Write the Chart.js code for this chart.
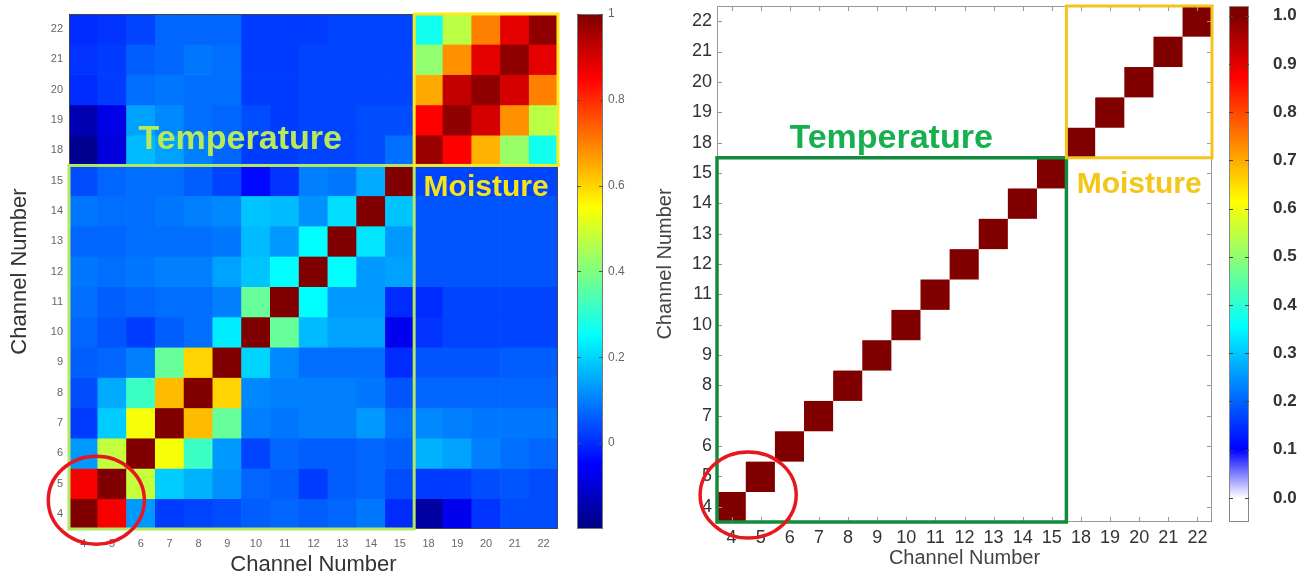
<!DOCTYPE html>
<html>
<head>
<meta charset="utf-8">
<title>Channel correlation maps</title>
<script src="https://cdn.jsdelivr.net/npm/chart.js@4.4.1/dist/chart.umd.min.js"></script>
<style>
  html, body { margin: 0; padding: 0; background: #fff; }
  body { width: 1315px; height: 578px; position: relative; overflow: hidden; }
  canvas { position: absolute; top: 0; }
  #leftChart { left: 0; }
  #rightChart { left: 640px; }
</style>
</head>
<body>
<canvas id="leftChart" width="660" height="578"></canvas>
<canvas id="rightChart" width="675" height="578"></canvas>
<script>
// --- data (rows = y channel, bottom to top; columns = x channel, left to right) ---
const channels = [4, 5, 6, 7, 8, 9, 10, 11, 12, 13, 14, 15, 18, 19, 20, 21, 22];

const leftCorr = [
  /* 4  */ [1.00, 0.86, 0.13, 0.02, 0.03, 0.04, 0.06, 0.07, 0.06, 0.07, 0.09, 0.00, -0.16, -0.07, 0.01, 0.04, 0.04],
  /* 5  */ [0.86, 1.00, 0.48, 0.19, 0.16, 0.12, 0.07, 0.06, 0.02, 0.06, 0.07, 0.04, 0.02, 0.02, 0.04, 0.05, 0.04],
  /* 6  */ [0.13, 0.48, 1.00, 0.54, 0.32, 0.13, 0.03, 0.07, 0.06, 0.06, 0.07, 0.06, 0.16, 0.14, 0.10, 0.08, 0.07],
  /* 7  */ [0.02, 0.19, 0.54, 1.00, 0.63, 0.37, 0.10, 0.09, 0.10, 0.10, 0.13, 0.08, 0.11, 0.10, 0.09, 0.09, 0.09],
  /* 8  */ [0.04, 0.15, 0.32, 0.63, 1.00, 0.60, 0.11, 0.10, 0.10, 0.10, 0.09, 0.05, 0.07, 0.07, 0.07, 0.07, 0.07],
  /* 9  */ [0.06, 0.07, 0.10, 0.37, 0.60, 1.00, 0.20, 0.11, 0.08, 0.08, 0.08, 0.00, 0.05, 0.05, 0.05, 0.06, 0.06],
  /* 10 */ [0.07, 0.05, 0.02, 0.06, 0.08, 0.23, 1.00, 0.37, 0.17, 0.14, 0.14, -0.07, 0.01, 0.03, 0.03, 0.03, 0.03],
  /* 11 */ [0.08, 0.06, 0.07, 0.08, 0.08, 0.10, 0.37, 1.00, 0.25, 0.13, 0.13, 0.00, 0.00, 0.03, 0.03, 0.03, 0.03],
  /* 12 */ [0.09, 0.08, 0.09, 0.10, 0.10, 0.14, 0.18, 0.25, 1.00, 0.25, 0.13, 0.14, 0.05, 0.05, 0.05, 0.05, 0.05],
  /* 13 */ [0.07, 0.07, 0.08, 0.08, 0.08, 0.09, 0.17, 0.13, 0.25, 1.00, 0.22, 0.13, 0.05, 0.05, 0.05, 0.05, 0.05],
  /* 14 */ [0.09, 0.08, 0.08, 0.09, 0.10, 0.11, 0.18, 0.17, 0.12, 0.21, 1.00, 0.18, 0.05, 0.05, 0.05, 0.05, 0.05],
  /* 15 */ [0.04, 0.07, 0.08, 0.08, 0.06, 0.03, -0.04, 0.01, 0.10, 0.09, 0.15, 1.00, 0.03, 0.03, 0.03, 0.03, 0.03],
  /* 18 */ [-0.18, -0.09, 0.17, 0.14, 0.10, 0.07, 0.02, 0.02, 0.03, 0.03, 0.04, 0.08, 0.97, 0.85, 0.64, 0.43, 0.27],
  /* 19 */ [-0.14, -0.08, 0.14, 0.11, 0.08, 0.07, 0.04, 0.02, 0.03, 0.03, 0.04, 0.04, 0.85, 0.98, 0.90, 0.68, 0.47],
  /* 20 */ [0.00, 0.02, 0.08, 0.09, 0.08, 0.08, 0.02, 0.02, 0.03, 0.03, 0.03, 0.03, 0.65, 0.92, 0.98, 0.90, 0.70],
  /* 21 */ [0.01, 0.02, 0.06, 0.07, 0.09, 0.08, 0.02, 0.02, 0.03, 0.03, 0.03, 0.03, 0.42, 0.68, 0.88, 0.98, 0.88],
  /* 22 */ [0.00, 0.01, 0.03, 0.07, 0.07, 0.07, 0.02, 0.02, 0.02, 0.03, 0.03, 0.03, 0.27, 0.47, 0.70, 0.88, 0.98]
];

const rightCorr = [
  /* 4  */ [1, 0, 0, 0, 0, 0, 0, 0, 0, 0, 0, 0, 0, 0, 0, 0, 0],
  /* 5  */ [0, 1, 0, 0, 0, 0, 0, 0, 0, 0, 0, 0, 0, 0, 0, 0, 0],
  /* 6  */ [0, 0, 1, 0, 0, 0, 0, 0, 0, 0, 0, 0, 0, 0, 0, 0, 0],
  /* 7  */ [0, 0, 0, 1, 0, 0, 0, 0, 0, 0, 0, 0, 0, 0, 0, 0, 0],
  /* 8  */ [0, 0, 0, 0, 1, 0, 0, 0, 0, 0, 0, 0, 0, 0, 0, 0, 0],
  /* 9  */ [0, 0, 0, 0, 0, 1, 0, 0, 0, 0, 0, 0, 0, 0, 0, 0, 0],
  /* 10 */ [0, 0, 0, 0, 0, 0, 1, 0, 0, 0, 0, 0, 0, 0, 0, 0, 0],
  /* 11 */ [0, 0, 0, 0, 0, 0, 0, 1, 0, 0, 0, 0, 0, 0, 0, 0, 0],
  /* 12 */ [0, 0, 0, 0, 0, 0, 0, 0, 1, 0, 0, 0, 0, 0, 0, 0, 0],
  /* 13 */ [0, 0, 0, 0, 0, 0, 0, 0, 0, 1, 0, 0, 0, 0, 0, 0, 0],
  /* 14 */ [0, 0, 0, 0, 0, 0, 0, 0, 0, 0, 1, 0, 0, 0, 0, 0, 0],
  /* 15 */ [0, 0, 0, 0, 0, 0, 0, 0, 0, 0, 0, 1, 0, 0, 0, 0, 0],
  /* 18 */ [0, 0, 0, 0, 0, 0, 0, 0, 0, 0, 0, 0, 1, 0, 0, 0, 0],
  /* 19 */ [0, 0, 0, 0, 0, 0, 0, 0, 0, 0, 0, 0, 0, 1, 0, 0, 0],
  /* 20 */ [0, 0, 0, 0, 0, 0, 0, 0, 0, 0, 0, 0, 0, 0, 1, 0, 0],
  /* 21 */ [0, 0, 0, 0, 0, 0, 0, 0, 0, 0, 0, 0, 0, 0, 0, 1, 0],
  /* 22 */ [0, 0, 0, 0, 0, 0, 0, 0, 0, 0, 0, 0, 0, 0, 0, 0, 1]
];

const leftCbTicks = [0, 0.2, 0.4, 0.6, 0.8, 1];
const rightCbTicks = [0, 0.1, 0.2, 0.3, 0.4, 0.5, 0.6, 0.7, 0.8, 0.9, 1.0];

const FAMILY = '"Liberation Sans", Arial, Helvetica, sans-serif';
Chart.defaults.font.family = FAMILY;

// --- colour maps ---
const clamp01 = v => Math.max(0, Math.min(1, v));

function jet(t) {
  t = clamp01(t);
  const r = clamp01(1.5 - Math.abs(4 * t - 3));
  const g = clamp01(1.5 - Math.abs(4 * t - 2));
  const b = clamp01(1.5 - Math.abs(4 * t - 1));
  return `rgb(${Math.round(r * 255)},${Math.round(g * 255)},${Math.round(b * 255)})`;
}

// left: plain jet over -0.2 .. 1
const leftColor = v => jet((v + 0.2) / 1.2);

// right: jet from pure blue at 0.1 up to dark red at 1, fading to white below 0.1
function rightColor(v) {
  if (v >= 0.1) return jet(0.125 + (v - 0.1) / 0.9 * 0.875);
  const f = clamp01((0.1 - v) / 0.1);
  const c = Math.round(255 * f);
  return `rgb(${c},${c},255)`;
}

// --- decoration plugin: colour bar, frame, boxes, labels, circle ---
const decorPlugin = {
  id: 'decor',
  afterDraw(chart, args, o) {
    const { ctx, chartArea: a, scales: { x, y, cb } } = chart;
    const px = v => x.getPixelForValue(v);
    const py = v => y.getPixelForValue(v);
    const line = (x1, y1, x2, y2) => { ctx.beginPath(); ctx.moveTo(x1, y1); ctx.lineTo(x2, y2); ctx.stroke(); };
    ctx.save();

    // colour bar
    const bx = Math.round(cb.left + o.cbGap);
    const bw = o.cbBarWidth;
    const top = Math.round(cb.getPixelForValue(cb.max));
    const bot = Math.round(cb.getPixelForValue(cb.min));
    for (let p = top; p < bot; p++) {
      ctx.fillStyle = o.cmap(cb.getValueForPixel(p + 0.5));
      ctx.fillRect(bx, p, bw, 1);
    }
    ctx.strokeStyle = o.cbEdge;
    ctx.lineWidth = 1;
    ctx.strokeRect(bx + 0.5, top + 0.5, bw - 1, bot - top - 1);
    ctx.strokeStyle = o.cbTickColor;
    cb.ticks.forEach(t => {
      const ty = Math.round(cb.getPixelForValue(t.value)) + 0.5;
      line(bx, ty, bx + 4, ty);
      line(bx + bw - 4, ty, bx + bw, ty);
    });

    // plot frame with inward ticks
    ctx.strokeStyle = o.frameColor;
    ctx.lineWidth = 1;
    ctx.strokeRect(Math.round(a.left) + 0.5, Math.round(a.top) + 0.5, Math.round(a.width) - 1, Math.round(a.height) - 1);
    if (o.innerTicks) {
      channels.forEach((_, i) => {
        const tx = Math.round(px(i)) + 0.5, ty = Math.round(py(i)) + 0.5;
        line(tx, a.top, tx, a.top + 5);
        line(tx, a.bottom, tx, a.bottom - 5);
        line(a.left, ty, a.left + 5, ty);
        line(a.right, ty, a.right - 5, ty);
      });
    }

    // group boxes
    o.boxes.forEach(b => {
      ctx.strokeStyle = b.color;
      ctx.lineWidth = b.width;
      ctx.strokeRect(px(b.x0), py(b.y1), px(b.x1) - px(b.x0), py(b.y0) - py(b.y1));
    });

    // group labels
    ctx.textAlign = 'center';
    ctx.textBaseline = 'alphabetic';
    o.labels.forEach(l => {
      ctx.font = `bold ${l.size}px ${FAMILY}`;
      ctx.fillStyle = l.color;
      ctx.fillText(l.text, px(l.x), py(l.y));
    });

    // highlight ellipse
    const e = o.ellipse;
    const cellW = px(1) - px(0), cellH = py(0) - py(1);
    ctx.strokeStyle = e.color;
    ctx.lineWidth = e.width;
    ctx.beginPath();
    ctx.ellipse(px(e.cx), py(e.cy), e.rx * cellW, e.ry * cellH, 0, 0, Math.PI * 2);
    ctx.stroke();

    ctx.restore();
  }
};

function cellsFrom(matrix) {
  const cells = [];
  matrix.forEach((row, r) => row.forEach((v, c) => cells.push({ x: c, y: [r - 0.5, r + 0.5], v })));
  return cells;
}

// fixed axis size, and no label-overflow padding pushed into the layout
function fixSize(prop, size) {
  return s => {
    s[prop] = size;
    s.paddingTop = s.paddingBottom = s.paddingLeft = s.paddingRight = 0;
  };
}

function buildHeatmap(canvasId, matrix, colorFn, look) {
  const idx = channels.map((_, i) => i);
  return new Chart(document.getElementById(canvasId), {
    type: 'bar',
    data: {
      datasets: [{
        data: cellsFrom(matrix),
        xAxisID: 'x',
        yAxisID: 'y',
        backgroundColor: c => (c.raw ? colorFn(c.raw.v) : '#fff'),
        borderWidth: 0,
        barPercentage: 1,
        categoryPercentage: 1
      }]
    },
    options: {
      responsive: false,
      animation: false,
      events: [],
      layout: { padding: { top: look.top, left: 0, right: 0, bottom: 0 } },
      plugins: { legend: { display: false }, tooltip: { enabled: false }, decor: look.decor },
      scales: {
        x: {
          type: 'linear', min: -0.5, max: 16.5, offset: false,
          afterBuildTicks: s => { s.ticks = idx.map(value => ({ value })); },
          afterFit: fixSize('height', look.xHeight),
          grid: { display: false, drawTicks: false },
          border: { display: false },
          ticks: { autoSkip: false, maxRotation: 0, minRotation: 0, padding: look.xPad,
                   color: look.tickColor, font: { size: look.tickSize }, callback: v => String(channels[v]) },
          title: { display: true, text: 'Channel Number', color: look.titleColor,
                   font: { size: look.titleSize }, padding: { top: 0, bottom: look.xTitlePad } }
        },
        y: {
          type: 'linear', min: -0.5, max: 16.5, offset: false,
          afterBuildTicks: s => { s.ticks = idx.map(value => ({ value })); },
          afterFit: fixSize('width', look.yWidth),
          grid: { display: false, drawTicks: false },
          border: { display: false },
          ticks: { autoSkip: false, padding: look.yPad, color: look.tickColor,
                   font: { size: look.tickSize }, callback: v => String(channels[v]) },
          title: { display: true, text: 'Channel Number', color: look.titleColor,
                   font: { size: look.titleSize }, padding: { top: look.yTitlePad, bottom: 0 } }
        },
        cb: {
          type: 'linear', axis: 'y', position: 'right', min: look.cbMin, max: look.cbMax,
          afterBuildTicks: s => { s.ticks = look.cbTicks.map(value => ({ value })); },
          afterFit: fixSize('width', look.cbWidth),
          grid: { display: false, drawTicks: false },
          border: { display: false },
          ticks: { autoSkip: false, padding: look.cbPad, color: look.cbColor,
                   font: look.cbFont, callback: look.cbFormat }
        }
      }
    },
    plugins: [decorPlugin]
  });
}

// --- left panel: measured correlation ---
buildHeatmap('leftChart', leftCorr, leftColor, {
  top: 14, xHeight: 49, yWidth: 69, cbWidth: 102,
  xPad: 8, yPad: 6, tickSize: 11, tickColor: '#666',
  titleSize: 22, titleColor: '#333', xTitlePad: 0, yTitlePad: 7,
  cbMin: -0.2, cbMax: 1, cbTicks: leftCbTicks, cbPad: 50, cbColor: '#666',
  cbFont: { size: 12 }, cbFormat: v => String(Math.round(v * 10) / 10),
  decor: {
    cmap: leftColor, cbGap: 19, cbBarWidth: 26, cbEdge: '#777', cbTickColor: '#555',
    frameColor: '#444', innerTicks: false,
    boxes: [
      { x0: -0.5, x1: 11.5, y0: -0.5, y1: 11.5, color: '#b5e861', width: 3 },
      { x0: 11.5, x1: 16.5, y0: 11.5, y1: 16.5, color: '#fde81a', width: 3 }
    ],
    labels: [
      { text: 'Temperature', x: 5.45, y: 12.05, size: 34, color: '#b8e85c' },
      { text: 'Moisture', x: 14.0, y: 10.5, size: 30, color: '#f7e31a' }
    ],
    ellipse: { cx: 0.45, cy: 0.45, rx: 1.67, ry: 1.45, color: '#e8161e', width: 3.5 }
  }
});

// --- right panel: ideal (identity) correlation ---
buildHeatmap('rightChart', rightCorr, rightColor, {
  top: 6, xHeight: 56, yWidth: 77, cbWidth: 103,
  xPad: 5, yPad: 5, tickSize: 18, tickColor: '#333',
  titleSize: 20, titleColor: '#444', xTitlePad: 8, yTitlePad: 13,
  cbMin: -0.05, cbMax: 1.02, cbTicks: rightCbTicks, cbPad: 61, cbColor: '#333',
  cbFont: { size: 17, weight: 'bold' }, cbFormat: v => v.toFixed(1),
  decor: {
    cmap: rightColor, cbGap: 17, cbBarWidth: 20, cbEdge: '#888', cbTickColor: '#444',
    frameColor: '#999', innerTicks: true,
    boxes: [
      { x0: -0.5, x1: 11.5, y0: -0.5, y1: 11.5, color: '#138a3c', width: 3.5 },
      { x0: 11.5, x1: 16.5, y0: 11.5, y1: 16.5, color: '#f3c41c', width: 3 }
    ],
    labels: [
      { text: 'Temperature', x: 5.48, y: 11.82, size: 34, color: '#17b04e' },
      { text: 'Moisture', x: 14.0, y: 10.34, size: 30, color: '#f5c518' }
    ],
    ellipse: { cx: 0.57, cy: 0.39, rx: 1.65, ry: 1.42, color: '#e8161e', width: 3.5 }
  }
});
</script>
</body>
</html>
